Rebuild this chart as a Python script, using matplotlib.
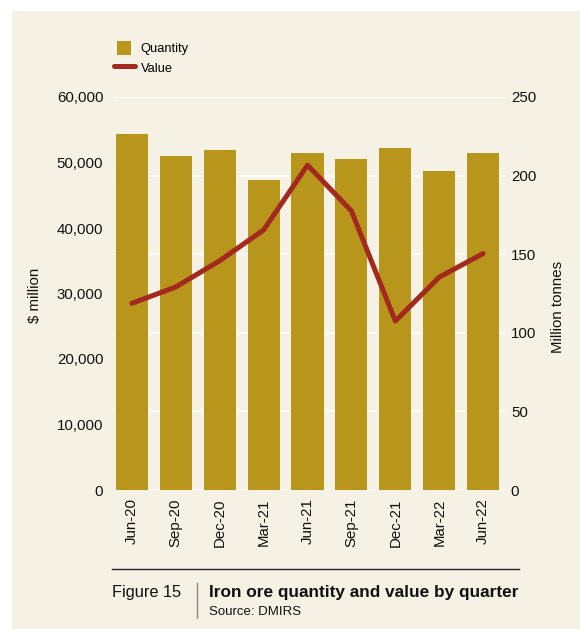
import matplotlib
matplotlib.use("Agg")
import matplotlib.pyplot as plt
from matplotlib.patches import Rectangle
from matplotlib.lines import Line2D
from matplotlib.legend_handler import HandlerPatch
from matplotlib.ticker import FuncFormatter

plt.rcParams['font.family'] = ['Liberation Sans', 'DejaVu Sans']

# quarterly data
quarters = ['Jun-20', 'Sep-20', 'Dec-20', 'Mar-21', 'Jun-21', 'Sep-21', 'Dec-21', 'Mar-22', 'Jun-22']
quantity_mt = [226.5, 212.5, 216.3, 197.2, 214.4, 210.6, 217.6, 202.9, 214.4]
value_musd = [28500, 31000, 35000, 39700, 49600, 42600, 25800, 32500, 36100]

cream = '#f5f1e4'
panel = '#dcdddf'
bar_col = '#b8961c'
line_col = '#a3291f'
txt = '#111111'


class SquareHandler(HandlerPatch):
    # square swatch instead of the stretched default
    def create_artists(self, legend, orig, xd, yd, width, height, fontsize, trans):
        side = height * 0.88
        p = Rectangle((-xd + (width - side) / 2, -yd + (height - side) / 2), side, side,
                      facecolor=orig.get_facecolor(), edgecolor='none', transform=trans)
        return [p]


fig = plt.figure(figsize=(5.8, 6.29), dpi=100)
fig.patch.set_facecolor('white')
fig.patches.append(Rectangle((12 / 580, 0), 1, 1 - 11 / 629, transform=fig.transFigure,
                             facecolor=cream, edgecolor='none', zorder=-10))

ax = fig.add_axes([113 / 580, 1 - 490 / 629, 393 / 580, 393 / 629])
ax2 = ax.twinx()

x = list(range(len(quarters)))
ax2.bar(x, quantity_mt, width=0.73, color=bar_col, zorder=2)
ax2.set_ylim(0, 250)
ax2.set_yticks([0, 50, 100, 150, 200, 250])
ax2.set_facecolor(panel)
ax2.grid(axis='y', color='white', linewidth=1.2, zorder=1)
ax2.set_axisbelow(True)

ax.plot(x, value_musd, color=line_col, linewidth=3.6, solid_capstyle='round', zorder=3)
ax.set_ylim(0, 60000)
ax.set_yticks(range(0, 60001, 10000))
ax.yaxis.set_major_formatter(FuncFormatter(lambda v, p: f'{int(v):,}'))
ax.set_zorder(ax2.get_zorder() + 1)
ax.patch.set_visible(False)

ax.set_xlim(-0.43, 8.52)
ax.set_xticks(x)
ax.set_xticklabels(quarters, rotation=90)

for a in (ax, ax2):
    for s in a.spines.values():
        s.set_visible(False)
    a.tick_params(length=0, labelsize=10.8, colors=txt)
ax.tick_params(axis='y', pad=7)
ax2.tick_params(axis='y', pad=3.5)
ax.tick_params(axis='x', pad=6)

fig.text(35 / 580, 1 - 295 / 629, '$ million', fontsize=10.8, color=txt,
         rotation=90, ha='center', va='center')
fig.text(558 / 580, 1 - 307 / 629, 'Million tonnes', fontsize=10.8, color=txt,
         rotation=90, ha='center', va='center')

handles = [Rectangle((0, 0), 1, 1, color=bar_col),
           Line2D([0], [0], color=line_col, linewidth=3.6, solid_capstyle='round')]
fig.legend(handles, ['Quantity', 'Value'], loc='upper left', bbox_to_anchor=(114 / 580, 1 - 40 / 629),
           frameon=False, fontsize=9.3, handlelength=1.6, handleheight=1.5,
           labelspacing=0.35, handletextpad=0.45, borderaxespad=0, borderpad=0,
           handler_map={Rectangle: SquareHandler()})

# caption
fig.add_artist(Line2D([112 / 580, 519 / 580], [1 - 569 / 629] * 2, color='#222222',
                      linewidth=1, transform=fig.transFigure))
fig.add_artist(Line2D([197 / 580] * 2, [1 - 583 / 629, 1 - 618 / 629], color='#888888',
                      linewidth=1, transform=fig.transFigure))
fig.text(112 / 580, 1 - 597 / 629, 'Figure 15', fontsize=11.8, color=txt, va='baseline')
fig.text(209 / 580, 1 - 597 / 629, 'Iron ore quantity and value by quarter', fontsize=12.4,
         fontweight='bold', color=txt, va='baseline')
fig.text(209 / 580, 1 - 615 / 629, 'Source: DMIRS', fontsize=9.5, color=txt, va='baseline')

fig.savefig('out.png', dpi=100, facecolor=fig.get_facecolor())
